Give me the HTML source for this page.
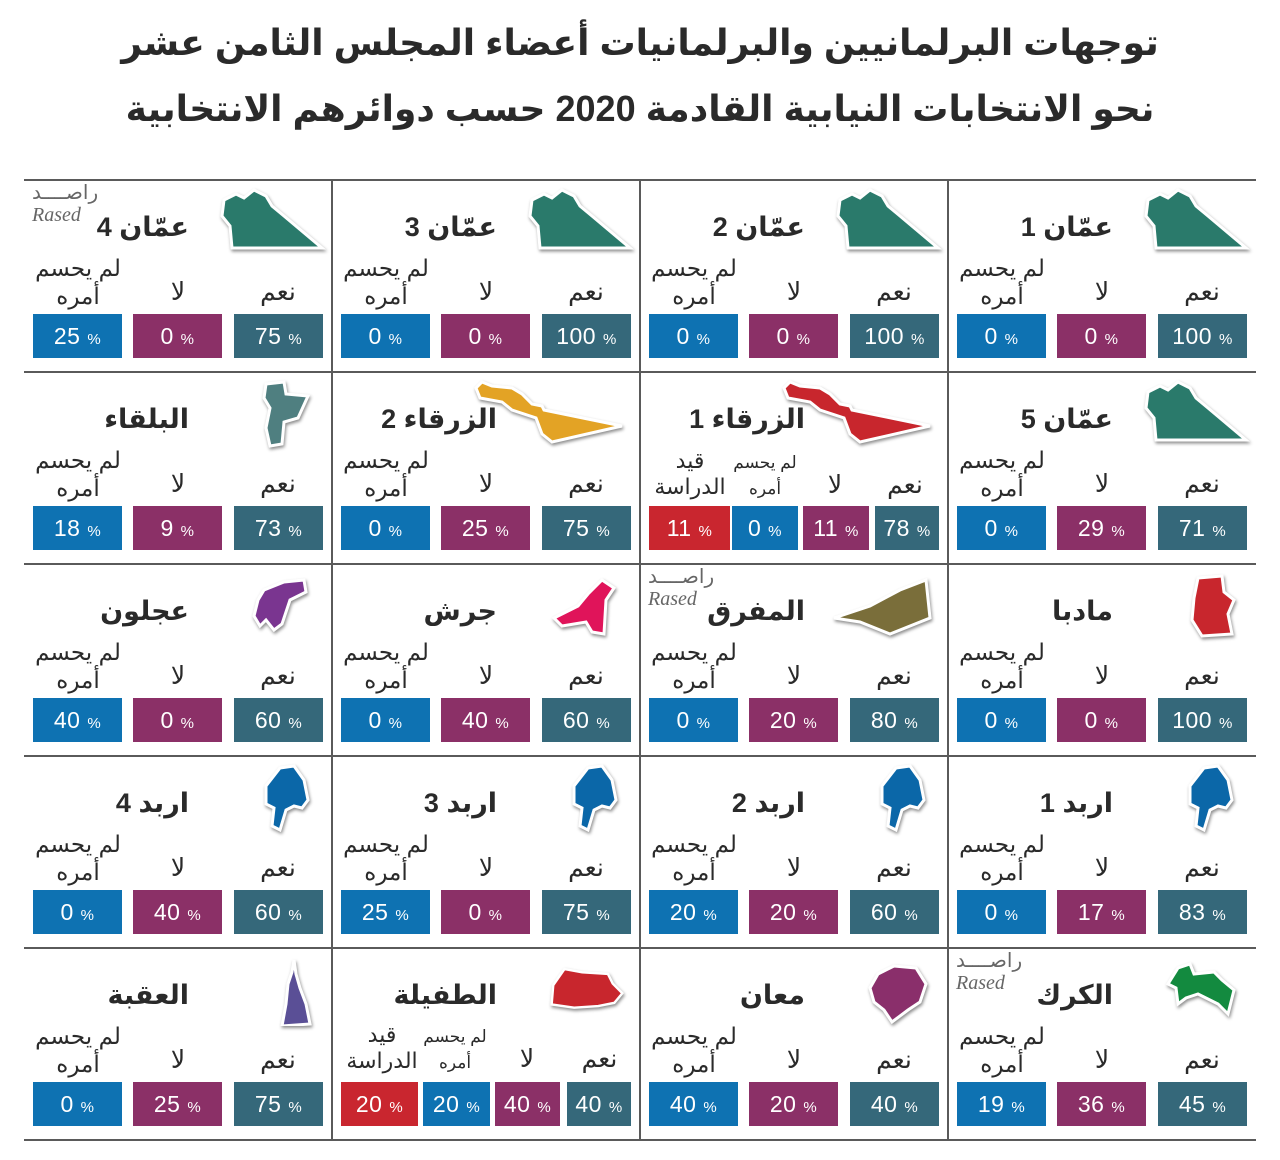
<!DOCTYPE html>
<html><head><meta charset="utf-8">
<style>
*{margin:0;padding:0;box-sizing:border-box}
body{width:1280px;height:1160px;background:#fff;position:relative;overflow:hidden;font-family:"Liberation Sans","Noto Sans CJK SC","DejaVu Sans",sans-serif;color:#222}
.h{position:absolute;left:0;width:1280px;text-align:center;font-weight:bold;font-size:36px;direction:rtl;color:#2a2a2a}
.hl{position:absolute;left:24px;width:1232px;height:2px;background:#5a5a5a}
.vl{position:absolute;top:180px;width:2px;height:960px;background:#5a5a5a}
.c{position:absolute;width:308px;height:192px}
.m{position:absolute;left:190px;top:6px;width:112px;height:72px;filter:drop-shadow(1px 2px 1.5px rgba(0,0,0,.45))}
.t{position:absolute;right:143px;top:32px;font-size:27px;font-weight:bold;direction:rtl;white-space:nowrap;color:#2a2a2a}
.l{position:absolute;width:100px;text-align:center;font-size:25px;line-height:28px;direction:rtl;color:#2a2a2a}
.l1{left:204px;top:98px}.l2{left:104px;top:98px}.l3{left:4px;top:74px;font-size:23px}
.s{position:absolute;text-align:center;font-size:21px;line-height:26px;direction:rtl;color:#2a2a2a;white-space:nowrap}
.b{position:absolute;top:134px;height:44px;width:89px;line-height:44px;text-align:center;color:#fff;font-size:23px;letter-spacing:.5px}
.b small{font-size:15px}
.te{background:#35687a}.pu{background:#8b3067}.bl{background:#0e72b2}.re{background:#c9262f}
.ra{position:absolute;left:8px;top:2px;color:#666;font-size:20px;line-height:22px}
.ra i{font-family:"Liberation Serif",serif;font-size:20px;display:block}
</style></head><body>
<div class="h" style="top:22px">توجهات البرلمانيين والبرلمانيات أعضاء المجلس الثامن عشر</div>
<div class="h" style="top:88px">نحو الانتخابات النيابية القادمة 2020 حسب دوائرهم الانتخابية</div>

<div class="hl" style="top:179px"></div><div class="hl" style="top:371px"></div><div class="hl" style="top:563px"></div><div class="hl" style="top:755px"></div><div class="hl" style="top:947px"></div><div class="hl" style="top:1139px"></div>
<div class="vl" style="left:331px"></div><div class="vl" style="left:639px"></div><div class="vl" style="left:947px"></div>

<div class="c" style="left:948px;top:180px">
<svg class="m" viewBox="0 0 112 72"><polygon points="10,14 22,8 30,12 40,4 52,10 58,20 70,30 108,62 18,62 16,40 8,30" fill="#2a7a6b" stroke="#fff" stroke-width="3"/></svg>
<div class="t">عمّان 1</div>
<div class="l l1">نعم</div><div class="l l2">لا</div><div class="l l3">لم يحسم<br>أمره</div>
<div class="b te" style="left:210px">100 <small>%</small></div><div class="b pu" style="left:109px">0 <small>%</small></div><div class="b bl" style="left:9px">0 <small>%</small></div>
</div>
<div class="c" style="left:640px;top:180px">
<svg class="m" viewBox="0 0 112 72"><polygon points="10,14 22,8 30,12 40,4 52,10 58,20 70,30 108,62 18,62 16,40 8,30" fill="#2a7a6b" stroke="#fff" stroke-width="3"/></svg>
<div class="t">عمّان 2</div>
<div class="l l1">نعم</div><div class="l l2">لا</div><div class="l l3">لم يحسم<br>أمره</div>
<div class="b te" style="left:210px">100 <small>%</small></div><div class="b pu" style="left:109px">0 <small>%</small></div><div class="b bl" style="left:9px">0 <small>%</small></div>
</div>
<div class="c" style="left:332px;top:180px">
<svg class="m" viewBox="0 0 112 72"><polygon points="10,14 22,8 30,12 40,4 52,10 58,20 70,30 108,62 18,62 16,40 8,30" fill="#2a7a6b" stroke="#fff" stroke-width="3"/></svg>
<div class="t">عمّان 3</div>
<div class="l l1">نعم</div><div class="l l2">لا</div><div class="l l3">لم يحسم<br>أمره</div>
<div class="b te" style="left:210px">100 <small>%</small></div><div class="b pu" style="left:109px">0 <small>%</small></div><div class="b bl" style="left:9px">0 <small>%</small></div>
</div>
<div class="c" style="left:24px;top:180px">
<div class="ra">راصــــد<i>Rased</i></div>
<svg class="m" viewBox="0 0 112 72"><polygon points="10,14 22,8 30,12 40,4 52,10 58,20 70,30 108,62 18,62 16,40 8,30" fill="#2a7a6b" stroke="#fff" stroke-width="3"/></svg>
<div class="t">عمّان 4</div>
<div class="l l1">نعم</div><div class="l l2">لا</div><div class="l l3">لم يحسم<br>أمره</div>
<div class="b te" style="left:210px">75 <small>%</small></div><div class="b pu" style="left:109px">0 <small>%</small></div><div class="b bl" style="left:9px">25 <small>%</small></div>
</div>

<div class="c" style="left:948px;top:372px">
<svg class="m" viewBox="0 0 112 72"><polygon points="10,14 22,8 30,12 40,4 52,10 58,20 70,30 108,62 18,62 16,40 8,30" fill="#2a7a6b" stroke="#fff" stroke-width="3"/></svg>
<div class="t">عمّان 5</div>
<div class="l l1">نعم</div><div class="l l2">لا</div><div class="l l3">لم يحسم<br>أمره</div>
<div class="b te" style="left:210px">71 <small>%</small></div><div class="b pu" style="left:109px">29 <small>%</small></div><div class="b bl" style="left:9px">0 <small>%</small></div>
</div>
<div class="c" style="left:640px;top:372px">
<svg class="m" style="left:140px;width:160px;top:6px;height:66px" viewBox="0 0 160 66"><polygon points="4,10 10,4 20,8 40,10 50,16 60,26 70,28 72,32 150,48 80,64 70,56 64,40 40,32 30,24 8,20" fill="#c8262d" stroke="#fff" stroke-width="3"/></svg>
<div class="t">الزرقاء 1</div>
<div class="s" style="left:225px;width:80px;top:100px;font-size:25px">نعم</div>
<div class="s" style="left:160px;width:70px;top:100px;font-size:25px">لا</div>
<div class="s" style="left:88px;width:74px;top:78px;font-size:17px">لم يحسم<br>أمره</div>
<div class="s" style="left:5px;width:90px;top:76px;font-size:22px">قيد<br>الدراسة</div>
<div class="b te" style="left:235px;width:64px">78 <small>%</small></div><div class="b pu" style="left:163px;width:66px">11 <small>%</small></div><div class="b bl" style="left:92px;width:66px">0 <small>%</small></div><div class="b re" style="left:9px;width:81px">11 <small>%</small></div>
</div>
<div class="c" style="left:332px;top:372px">
<svg class="m" style="left:140px;width:160px;top:6px;height:66px" viewBox="0 0 160 66"><polygon points="4,10 10,4 20,8 40,10 50,16 60,26 70,28 72,32 150,48 80,64 70,56 64,40 40,32 30,24 8,20" fill="#e3a325" stroke="#fff" stroke-width="3"/></svg>
<div class="t">الزرقاء 2</div>
<div class="l l1">نعم</div><div class="l l2">لا</div><div class="l l3">لم يحسم<br>أمره</div>
<div class="b te" style="left:210px">75 <small>%</small></div><div class="b pu" style="left:109px">25 <small>%</small></div><div class="b bl" style="left:9px">0 <small>%</small></div>
</div>
<div class="c" style="left:24px;top:372px">
<svg class="m" viewBox="0 0 112 72"><polygon points="52,6 70,4 72,16 94,18 84,40 70,44 68,66 56,68 52,50 56,30 50,20" fill="#4f7f80" stroke="#fff" stroke-width="3"/></svg>
<div class="t">البلقاء</div>
<div class="l l1">نعم</div><div class="l l2">لا</div><div class="l l3">لم يحسم<br>أمره</div>
<div class="b te" style="left:210px">73 <small>%</small></div><div class="b pu" style="left:109px">9 <small>%</small></div><div class="b bl" style="left:9px">18 <small>%</small></div>
</div>

<div class="c" style="left:948px;top:564px">
<svg class="m" viewBox="0 0 112 72"><polygon points="60,8 84,6 86,22 96,30 90,44 94,64 64,66 54,50 56,28" fill="#c8262d" stroke="#fff" stroke-width="3"/></svg>
<div class="t">مادبا</div>
<div class="l l1">نعم</div><div class="l l2">لا</div><div class="l l3">لم يحسم<br>أمره</div>
<div class="b te" style="left:210px">100 <small>%</small></div><div class="b pu" style="left:109px">0 <small>%</small></div><div class="b bl" style="left:9px">0 <small>%</small></div>
</div>
<div class="c" style="left:640px;top:564px">
<div class="ra">راصــــد<i>Rased</i></div>
<svg class="m" style="left:190px;width:112px" viewBox="0 0 112 72"><polygon points="96,10 100,48 60,64 30,52 4,48 40,36 70,20" fill="#7a6e3a" stroke="#fff" stroke-width="3"/></svg>
<div class="t">المفرق</div>
<div class="l l1">نعم</div><div class="l l2">لا</div><div class="l l3">لم يحسم<br>أمره</div>
<div class="b te" style="left:210px">80 <small>%</small></div><div class="b pu" style="left:109px">20 <small>%</small></div><div class="b bl" style="left:9px">0 <small>%</small></div>
</div>
<div class="c" style="left:332px;top:564px">
<svg class="m" viewBox="0 0 112 72"><polygon points="80,10 92,18 84,30 82,64 70,62 64,52 40,56 32,48 56,36 66,24" fill="#e0145a" stroke="#fff" stroke-width="3"/></svg>
<div class="t">جرش</div>
<div class="l l1">نعم</div><div class="l l2">لا</div><div class="l l3">لم يحسم<br>أمره</div>
<div class="b te" style="left:210px">60 <small>%</small></div><div class="b pu" style="left:109px">40 <small>%</small></div><div class="b bl" style="left:9px">0 <small>%</small></div>
</div>
<div class="c" style="left:24px;top:564px">
<svg class="m" viewBox="0 0 112 72"><polygon points="50,20 70,12 90,10 92,22 76,30 68,54 60,60 52,50 46,56 40,46 44,30" fill="#7a3590" stroke="#fff" stroke-width="3"/></svg>
<div class="t">عجلون</div>
<div class="l l1">نعم</div><div class="l l2">لا</div><div class="l l3">لم يحسم<br>أمره</div>
<div class="b te" style="left:210px">60 <small>%</small></div><div class="b pu" style="left:109px">0 <small>%</small></div><div class="b bl" style="left:9px">40 <small>%</small></div>
</div>

<div class="c" style="left:948px;top:756px">
<svg class="m" viewBox="0 0 112 72"><polygon points="66,6 80,4 90,18 94,38 88,46 80,44 72,48 66,68 58,64 60,46 52,42 52,24" fill="#0b67a8" stroke="#fff" stroke-width="3"/></svg>
<div class="t">اربد 1</div>
<div class="l l1">نعم</div><div class="l l2">لا</div><div class="l l3">لم يحسم<br>أمره</div>
<div class="b te" style="left:210px">83 <small>%</small></div><div class="b pu" style="left:109px">17 <small>%</small></div><div class="b bl" style="left:9px">0 <small>%</small></div>
</div>
<div class="c" style="left:640px;top:756px">
<svg class="m" viewBox="0 0 112 72"><polygon points="66,6 80,4 90,18 94,38 88,46 80,44 72,48 66,68 58,64 60,46 52,42 52,24" fill="#0b67a8" stroke="#fff" stroke-width="3"/></svg>
<div class="t">اربد 2</div>
<div class="l l1">نعم</div><div class="l l2">لا</div><div class="l l3">لم يحسم<br>أمره</div>
<div class="b te" style="left:210px">60 <small>%</small></div><div class="b pu" style="left:109px">20 <small>%</small></div><div class="b bl" style="left:9px">20 <small>%</small></div>
</div>
<div class="c" style="left:332px;top:756px">
<svg class="m" viewBox="0 0 112 72"><polygon points="66,6 80,4 90,18 94,38 88,46 80,44 72,48 66,68 58,64 60,46 52,42 52,24" fill="#0b67a8" stroke="#fff" stroke-width="3"/></svg>
<div class="t">اربد 3</div>
<div class="l l1">نعم</div><div class="l l2">لا</div><div class="l l3">لم يحسم<br>أمره</div>
<div class="b te" style="left:210px">75 <small>%</small></div><div class="b pu" style="left:109px">0 <small>%</small></div><div class="b bl" style="left:9px">25 <small>%</small></div>
</div>
<div class="c" style="left:24px;top:756px">
<svg class="m" viewBox="0 0 112 72"><polygon points="66,6 80,4 90,18 94,38 88,46 80,44 72,48 66,68 58,64 60,46 52,42 52,24" fill="#0b67a8" stroke="#fff" stroke-width="3"/></svg>
<div class="t">اربد 4</div>
<div class="l l1">نعم</div><div class="l l2">لا</div><div class="l l3">لم يحسم<br>أمره</div>
<div class="b te" style="left:210px">60 <small>%</small></div><div class="b pu" style="left:109px">40 <small>%</small></div><div class="b bl" style="left:9px">0 <small>%</small></div>
</div>

<div class="c" style="left:948px;top:948px">
<div class="ra">راصــــد<i>Rased</i></div>
<svg class="m" viewBox="0 0 112 72"><polygon points="40,14 52,10 56,20 76,18 84,26 96,36 90,60 80,50 60,40 48,44 40,50 38,34 30,30" fill="#138a3f" stroke="#fff" stroke-width="3"/></svg>
<div class="t">الكرك</div>
<div class="l l1">نعم</div><div class="l l2">لا</div><div class="l l3">لم يحسم<br>أمره</div>
<div class="b te" style="left:210px">45 <small>%</small></div><div class="b pu" style="left:109px">36 <small>%</small></div><div class="b bl" style="left:9px">19 <small>%</small></div>
</div>
<div class="c" style="left:640px;top:948px">
<svg class="m" viewBox="0 0 112 72"><polygon points="48,20 64,12 86,14 96,30 90,48 78,56 62,68 54,56 44,48 40,34" fill="#8a2f6b" stroke="#fff" stroke-width="3"/></svg>
<div class="t">معان</div>
<div class="l l1">نعم</div><div class="l l2">لا</div><div class="l l3">لم يحسم<br>أمره</div>
<div class="b te" style="left:210px">40 <small>%</small></div><div class="b pu" style="left:109px">20 <small>%</small></div><div class="b bl" style="left:9px">40 <small>%</small></div>
</div>
<div class="c" style="left:332px;top:948px">
<svg class="m" style="left:210px;width:90px" viewBox="0 0 112 72"><polygon points="14,30 28,10 50,14 82,16 88,28 100,40 90,52 70,56 40,58 12,54" fill="#c8262d" stroke="#fff" stroke-width="3"/></svg>
<div class="t">الطفيلة</div>
<div class="s" style="left:230px;width:75px;top:98px;font-size:25px">نعم</div>
<div class="s" style="left:160px;width:70px;top:98px;font-size:25px">لا</div>
<div class="s" style="left:86px;width:74px;top:76px;font-size:17px">لم يحسم<br>أمره</div>
<div class="s" style="left:5px;width:90px;top:74px;font-size:22px">قيد<br>الدراسة</div>
<div class="b te" style="left:235px;width:64px">40 <small>%</small></div><div class="b pu" style="left:163px;width:65px">40 <small>%</small></div><div class="b bl" style="left:91px;width:67px">20 <small>%</small></div><div class="b re" style="left:9px;width:77px">20 <small>%</small></div>
</div>
<div class="c" style="left:24px;top:948px">
<svg class="m" viewBox="0 0 112 72"><polygon points="80,6 82,20 86,34 92,50 96,70 68,72 72,50 74,30 78,18" fill="#5a4f96" stroke="#fff" stroke-width="3"/></svg>
<div class="t">العقبة</div>
<div class="l l1">نعم</div><div class="l l2">لا</div><div class="l l3">لم يحسم<br>أمره</div>
<div class="b te" style="left:210px">75 <small>%</small></div><div class="b pu" style="left:109px">25 <small>%</small></div><div class="b bl" style="left:9px">0 <small>%</small></div>
</div>
</body></html>
